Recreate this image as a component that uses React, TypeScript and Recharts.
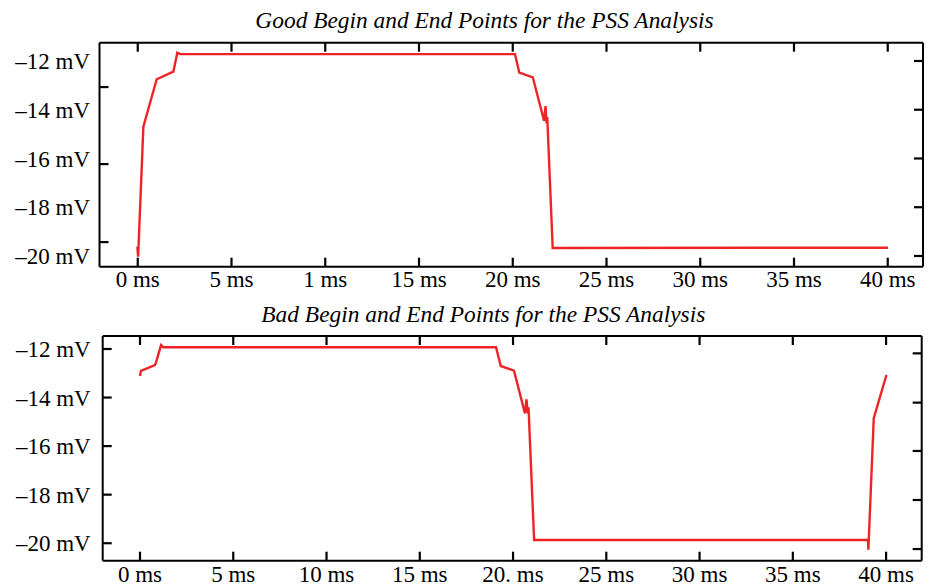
import React from 'react';
import { LineChart, Line, XAxis, YAxis } from 'recharts';

// ---- data ----
const goodTime = [-0.02, 0.02, 0.3, 1.01, 1.9, 2.11, 2.26, 20.12, 20.35, 21.07, 21.67, 21.75, 21.8, 21.84, 22.13, 40.01];
const goodVolt = [-19.62, -20.03, -14.7, -12.75, -12.44, -11.66, -11.72, -11.72, -12.48, -12.67, -14.45, -13.85, -14.55, -14.3, -19.67, -19.66];

const badTime = [0.0, 0.05, 0.8, 0.86, 1.13, 1.25, 19.09, 19.34, 20.05, 20.64, 20.72, 20.79, 20.83, 21.13, 39.03, 39.05, 39.34, 40.02];
const badVolt = [-13.11, -12.9, -12.66, -12.55, -11.84, -11.93, -11.93, -12.7, -12.89, -14.65, -14.07, -14.65, -14.4, -19.87, -19.87, -20.27, -14.85, -13.07];

const timeTicks = [0, 5, 10, 15, 20, 25, 30, 35, 40];
const goodTimeLabels = ['0 ms', '5 ms', '1 ms', '15 ms', '20 ms', '25 ms', '30 ms', '35 ms', '40 ms'];
const badTimeLabels = ['0 ms', '5 ms', '10 ms', '15 ms', '20. ms', '25 ms', '30 ms', '35 ms', '40 ms'];

const voltTicks = [-12, -14, -16, -18, -20];
const voltLabels = ['\u201312 mV', '\u201314 mV', '\u201316 mV', '\u201318 mV', '\u201320 mV'];
const goodLeftMinorTicks = [-13.07, -16.23, -19.43];
const badRightTicks = [-12.18, -14.21, -16.2, -18.22, -20.24];

const goodTitle = 'Good Begin and End Points for the PSS Analysis';
const badTitle = 'Bad Begin and End Points for the PSS Analysis';

const RED = '#ee2326';
const FONT = '"Liberation Serif", "Times New Roman", serif';

const goodData = goodTime.map((t, i) => ({ t, v: goodVolt[i] }));
const badData = badTime.map((t, i) => ({ t, v: badVolt[i] }));

const axisLineStyle = { stroke: '#000', strokeWidth: 2 };
const tickLineStyle = { stroke: '#000', strokeWidth: 2.2 };
const tickText = { fill: '#000', fontSize: 23, fontFamily: FONT };
const TICK = 9;

function YLabel(props: any) {
  const { x, y, payload } = props;
  const i = voltTicks.indexOf(payload.value);
  return (
    <text x={x} y={y} dy="0.355em" textAnchor="end" fill="#000" fontSize={23} fontFamily={FONT}>
      {i >= 0 ? voltLabels[i] : ''}
    </text>
  );
}

const NoLabel = () => <g />;

type PanelProps = {
  data: { t: number; v: number }[];
  xDomain: [number, number];
  yDomain: [number, number];
  margin: { top: number; right: number; bottom: number; left: number };
  height: number;
  xLabels: string[];
  leftTickLines: boolean;
  leftMinorTicks?: number[];
  rightTicks: number[];
  leftLabelMargin: number;
  xLabelMargin: number;
};

function Panel(p: PanelProps) {
  const fmtX = (v: number) => {
    const i = timeTicks.indexOf(v);
    return i >= 0 ? p.xLabels[i] : '';
  };
  return (
    <LineChart width={932} height={p.height} data={p.data} margin={p.margin}>
      <XAxis
        xAxisId="b"
        dataKey="t"
        type="number"
        domain={p.xDomain}
        allowDataOverflow
        ticks={timeTicks}
        interval={0}
        tickFormatter={fmtX}
        height={1}
        tickSize={-TICK}
        tickMargin={p.xLabelMargin}
        axisLine={axisLineStyle}
        tickLine={tickLineStyle}
        tick={tickText}
      />
      <XAxis
        xAxisId="top"
        orientation="top"
        dataKey="t"
        type="number"
        domain={p.xDomain}
        allowDataOverflow
        ticks={timeTicks}
        interval={0}
        height={1}
        tickSize={-TICK}
        axisLine={axisLineStyle}
        tickLine={tickLineStyle}
        tick={NoLabel}
      />
      <YAxis
        yAxisId="y"
        type="number"
        domain={p.yDomain}
        allowDataOverflow
        ticks={voltTicks}
        interval={0}
        width={1}
        tickSize={-TICK}
        tickMargin={p.leftLabelMargin}
        axisLine={axisLineStyle}
        tickLine={p.leftTickLines ? tickLineStyle : false}
        tick={<YLabel />}
      />
      {p.leftMinorTicks ? (
        <YAxis
          yAxisId="ym"
          mirror
          type="number"
          domain={p.yDomain}
          allowDataOverflow
          ticks={p.leftMinorTicks}
          interval={0}
          width={1}
          tickSize={TICK}
          axisLine={false}
          tickLine={tickLineStyle}
          tick={NoLabel}
        />
      ) : null}
      <YAxis
        yAxisId="yr"
        orientation="right"
        type="number"
        domain={p.yDomain}
        allowDataOverflow
        ticks={p.rightTicks}
        interval={0}
        width={1}
        tickSize={-TICK}
        axisLine={axisLineStyle}
        tickLine={tickLineStyle}
        tick={NoLabel}
      />
      <Line
        xAxisId="b"
        yAxisId="y"
        type="linear"
        dataKey="v"
        stroke={RED}
        strokeWidth={2.4}
        dot={false}
        activeDot={false}
        isAnimationActive={false}
      />
    </LineChart>
  );
}

export default function App() {
  return (
    <div style={{ position: 'absolute', left: 0, top: 0, width: 932, height: 587, background: '#fff' }}>
      <div style={{ position: 'absolute', left: 0, top: 0 }}>
        <Panel
          data={goodData}
          xDomain={[-2.04, 41.88]}
          yDomain={[-20.44, -11.25]}
          margin={{ top: 41.7, right: 8, bottom: 27.3, left: 98.5 }}
          height={295}
          xLabels={goodTimeLabels}
          leftTickLines={false}
          leftMinorTicks={goodLeftMinorTicks}
          rightTicks={voltTicks}
          leftLabelMargin={18.5}
          xLabelMargin={12.7}
        />
      </div>
      <div style={{ position: 'absolute', left: 0, top: 295 }}>
        <Panel
          data={badData}
          xDomain={[-2.0, 41.91]}
          yDomain={[-20.72, -11.465]}
          margin={{ top: 40, right: 9.3, bottom: 25.3, left: 101.7 }}
          height={292}
          xLabels={badTimeLabels}
          leftTickLines={true}
          rightTicks={badRightTicks}
          leftLabelMargin={21}
          xLabelMargin={13.7}
        />
      </div>
      <svg
        width={932}
        height={587}
        style={{ position: 'absolute', left: 0, top: 0, pointerEvents: 'none' }}
      >
        <text x={484.5} y={27.5} textAnchor="middle" fontFamily={FONT} fontStyle="italic" fontSize={23.4} fill="#000">
          {goodTitle}
        </text>
        <text x={483.3} y={322} textAnchor="middle" fontFamily={FONT} fontStyle="italic" fontSize={23.4} fill="#000">
          {badTitle}
        </text>
      </svg>
    </div>
  );
}
